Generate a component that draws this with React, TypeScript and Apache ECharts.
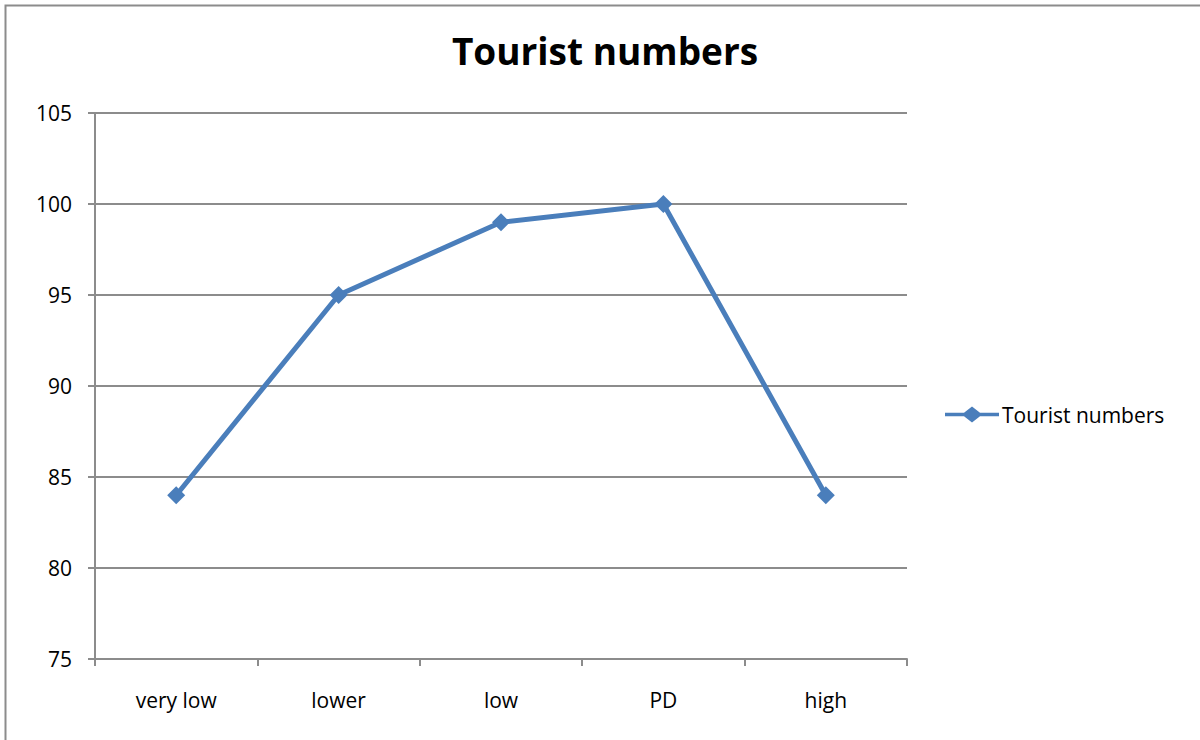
import React, { useEffect, useRef } from "react";
import * as echarts from "echarts";

const categories = ["very low", "lower", "low", "PD", "high"];
const touristNumbers = [84, 95, 99, 100, 84];
const seriesName = "Tourist numbers";
const chartTitle = "Tourist numbers";

const FONT = "'Open Sans', sans-serif";
const GRID_GRAY = "#8c8c8c";
const LINE_BLUE = "#4a7ebb";

// Legend marker: a short line with a diamond in its middle
const LEGEND_ICON =
  "path://M0,6.2 L19,6.2 L27,0 L35,6.2 L54,6.2 L54,9.8 L35,9.8 L27,16 L19,9.8 L0,9.8 Z";

export default function App() {
  const ref = useRef<HTMLDivElement>(null);

  useEffect(() => {
    if (!ref.current) return;
    const chart = echarts.init(ref.current, null, { renderer: "svg" });
    chart.setOption({
      animation: false,
      backgroundColor: "#ffffff",
      title: {
        text: chartTitle,
        left: 600,
        top: 27,
        textAlign: "center",
        textStyle: { fontFamily: FONT, fontSize: 37, fontWeight: "bold", color: "#000" },
      },
      graphic: [
        {
          type: "rect",
          shape: { x: 5.5, y: 5.5, width: 1300, height: 900 },
          style: { fill: "none", stroke: "#8c8c8c", lineWidth: 2 },
          silent: true,
        },
      ],
      legend: {
        left: 940,
        top: 399,
        itemWidth: 54,
        itemHeight: 16,
        itemGap: 0,
        textStyle: { fontFamily: FONT, fontSize: 21, color: "#000", padding: [0, 0, 0, -2] },
        data: [{ name: seriesName, icon: LEGEND_ICON }],
      },
      grid: { left: 95, right: 293, top: 113, bottom: 81 },
      xAxis: {
        type: "category",
        data: categories,
        boundaryGap: true,
        axisLine: { lineStyle: { color: GRID_GRAY, width: 2 } },
        axisTick: { show: true, length: 7, alignWithLabel: false, lineStyle: { color: GRID_GRAY, width: 2 } },
        axisLabel: { fontFamily: FONT, fontSize: 21, color: "#000", margin: 30 },
      },
      yAxis: {
        type: "value",
        min: 75,
        max: 105,
        interval: 5,
        axisLine: { show: true, lineStyle: { color: GRID_GRAY, width: 2 } },
        axisTick: { show: true, length: 7, lineStyle: { color: GRID_GRAY, width: 2 } },
        splitLine: { show: true, lineStyle: { color: GRID_GRAY, width: 2 } },
        axisLabel: { fontFamily: FONT, fontSize: 21, color: "#000", margin: 23 },
      },
      series: [
        {
          name: seriesName,
          type: "line",
          data: touristNumbers,
          symbol: "diamond",
          symbolSize: 18,
          lineStyle: { color: LINE_BLUE, width: 5 },
          itemStyle: { color: LINE_BLUE },
        },
      ],
    });
    return () => chart.dispose();
  }, []);

  return (
    <div
      ref={ref}
      style={{ position: "fixed", left: 0, top: 0, width: 1200, height: 740 }}
    />
  );
}
